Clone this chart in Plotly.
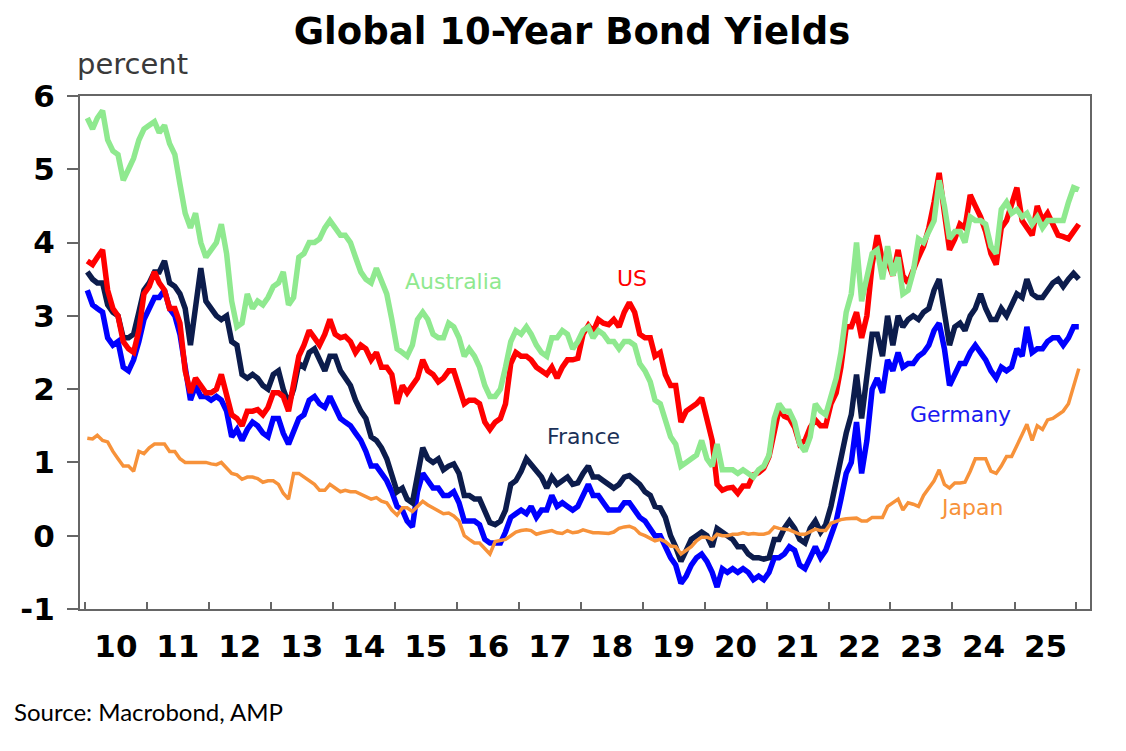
import pandas as pd
import plotly.graph_objects as go

# monthly readings, Jan 2010 .. Jan 2026 (percent)
australia = [
    5.7, 5.55, 5.7, 5.8, 5.4, 5.25, 5.2, 4.85, 5.0, 5.15, 5.4, 5.55,
    5.6, 5.65, 5.5, 5.6, 5.35, 5.2, 4.8, 4.4, 4.2, 4.4, 4.0, 3.8,
    3.9, 4.0, 4.25, 3.85, 3.2, 2.85, 2.9, 3.3, 3.1, 3.2, 3.15, 3.25,
    3.4, 3.45, 3.6, 3.15, 3.25, 3.8, 3.85, 4.0, 4.0, 4.05, 4.2, 4.3,
    4.2, 4.1, 4.1, 4.0, 3.8, 3.6, 3.5, 3.45, 3.65, 3.45, 3.3, 2.95,
    2.55, 2.5, 2.45, 2.6, 2.95, 3.05, 2.95, 2.75, 2.7, 2.7, 2.9, 2.85,
    2.7, 2.45, 2.55, 2.45, 2.3, 2.05, 1.9, 1.9, 2.0, 2.3, 2.65, 2.8,
    2.75, 2.85, 2.75, 2.6, 2.5, 2.45, 2.7, 2.7, 2.8, 2.75, 2.55, 2.65,
    2.8, 2.85, 2.7, 2.8, 2.75, 2.65, 2.65, 2.55, 2.65, 2.65, 2.6, 2.35,
    2.25, 2.1, 1.85, 1.8, 1.55, 1.35, 1.25, 0.95, 1.0, 1.05, 1.1, 1.3,
    1.05, 0.95, 1.25, 0.9, 0.9, 0.9, 0.85, 0.9, 0.85, 0.8, 0.9, 0.95,
    1.1, 1.6, 1.8, 1.7, 1.7, 1.55, 1.25, 1.15, 1.35, 1.8, 1.7, 1.65,
    1.9, 2.15, 2.5, 3.05, 3.3, 4.0, 3.2, 3.5, 3.85, 3.9, 3.5, 3.95,
    3.55, 3.8, 3.3, 3.35, 3.6, 4.05, 4.0, 4.15, 4.3, 4.85, 4.5, 4.05,
    4.15, 4.15, 4.0, 4.35, 4.3, 4.3, 4.25, 3.95, 3.85, 4.45, 4.55, 4.4,
    4.45, 4.35, 4.4, 4.25, 4.35, 4.2, 4.3, 4.3, 4.3, 4.3, 4.55, 4.75,
    4.72,
]
us = [
    3.75, 3.7, 3.8, 3.9, 3.35, 3.1, 3.0, 2.65, 2.55, 2.5, 2.8, 3.3,
    3.4, 3.6, 3.45, 3.35, 3.1, 3.1, 2.9, 2.25, 1.95, 2.15, 2.05, 1.95,
    1.95, 2.0, 2.2, 1.95, 1.65, 1.6, 1.5, 1.7, 1.7, 1.72, 1.65, 1.75,
    1.95, 1.95, 1.9, 1.7, 2.1, 2.45, 2.6, 2.8, 2.7, 2.6, 2.75, 2.95,
    2.75, 2.7, 2.72, 2.65, 2.5, 2.6, 2.55, 2.4, 2.5, 2.3, 2.3, 2.2,
    1.8, 2.05, 1.95, 2.05, 2.15, 2.4, 2.25, 2.2, 2.1, 2.15, 2.25, 2.25,
    2.0, 1.8, 1.85, 1.85, 1.8, 1.55, 1.45, 1.55, 1.6, 1.8, 2.35, 2.5,
    2.45, 2.45, 2.4, 2.3, 2.25, 2.2, 2.3, 2.15, 2.3, 2.4, 2.4, 2.42,
    2.75, 2.87, 2.78, 2.95, 2.9, 2.88, 2.95, 2.85, 3.05, 3.18, 3.05, 2.75,
    2.7, 2.7, 2.45, 2.5, 2.2, 2.05, 2.05, 1.55, 1.7, 1.75, 1.8, 1.88,
    1.6, 1.3, 0.7, 0.62, 0.65, 0.66, 0.58, 0.68, 0.68, 0.83, 0.86, 0.92,
    1.08, 1.38, 1.72, 1.63, 1.6, 1.48, 1.25, 1.3, 1.48, 1.58, 1.5, 1.5,
    1.8, 1.95, 2.3, 2.85, 2.85, 3.05, 2.7, 3.0, 3.7, 4.1, 3.75, 3.75,
    3.55, 3.9, 3.55, 3.45, 3.65, 3.8, 3.95, 4.2, 4.55, 4.95, 4.4, 3.9,
    4.05, 4.25, 4.2, 4.65, 4.5, 4.35, 4.15, 3.85, 3.7, 4.2, 4.3, 4.55,
    4.75, 4.3, 4.2, 4.1, 4.5, 4.3, 4.4, 4.25, 4.1, 4.08, 4.05, 4.15,
    4.25,
]
france = [
    3.6, 3.5, 3.45, 3.45, 3.15, 3.05, 3.0, 2.7, 2.7, 2.75, 3.05, 3.35,
    3.45, 3.6, 3.6, 3.75, 3.45, 3.4, 3.3, 3.1, 2.6, 3.15, 3.65, 3.2,
    3.1, 3.0, 2.95, 3.0, 2.65, 2.6, 2.2, 2.15, 2.2, 2.15, 2.05, 2.0,
    2.2, 2.25, 2.0, 1.8, 2.0, 2.35, 2.3, 2.5, 2.55, 2.4, 2.25, 2.45,
    2.45, 2.25, 2.15, 2.05, 1.85, 1.7, 1.6, 1.35, 1.3, 1.2, 1.05, 0.85,
    0.6, 0.65, 0.5, 0.45, 0.85, 1.2, 1.05, 1.0, 1.05, 0.9, 0.95, 0.98,
    0.85, 0.55, 0.55, 0.5, 0.5, 0.35, 0.18, 0.15, 0.2, 0.35, 0.7, 0.75,
    0.88, 1.05, 0.98, 0.88, 0.8, 0.65, 0.8, 0.7, 0.75, 0.8, 0.7, 0.72,
    0.85, 0.95, 0.8, 0.8, 0.75, 0.7, 0.65, 0.7, 0.8, 0.82, 0.75, 0.7,
    0.6, 0.55, 0.4, 0.38, 0.25, 0.0, -0.15, -0.35, -0.2, -0.05, 0.0, 0.05,
    0.0, -0.15, 0.1, 0.05, 0.0, -0.05, -0.15, -0.15, -0.25, -0.3, -0.3, -0.32,
    -0.3, -0.05, -0.05, 0.1, 0.2, 0.1, -0.05, -0.1, 0.1, 0.2, 0.05, 0.15,
    0.4, 0.75, 1.0, 1.4, 1.65, 2.2, 1.6, 2.2, 2.75, 2.75, 2.45, 3.0,
    2.6, 3.0, 2.85, 2.95, 3.0, 2.95, 3.05, 3.1, 3.35, 3.5, 3.05, 2.6,
    2.85, 2.9, 2.8, 3.0, 3.1, 3.3, 3.1, 2.95, 2.95, 3.1, 3.0, 3.15,
    3.3, 3.25, 3.5, 3.3, 3.25, 3.25, 3.35, 3.45, 3.5, 3.4, 3.5, 3.58,
    3.5,
]
germany = [
    3.35, 3.15, 3.1, 3.05, 2.7, 2.6, 2.65, 2.3, 2.25, 2.4, 2.65, 2.95,
    3.1, 3.25, 3.25, 3.35, 3.1, 3.0, 2.75, 2.3, 1.85, 2.05, 1.9, 1.9,
    1.85, 1.9, 1.85, 1.7, 1.35, 1.45, 1.3, 1.45, 1.55, 1.5, 1.4, 1.35,
    1.6, 1.6, 1.4, 1.25, 1.4, 1.6, 1.65, 1.85, 1.9, 1.8, 1.75, 1.9,
    1.75, 1.6, 1.55, 1.5, 1.4, 1.3, 1.15, 0.95, 0.95, 0.85, 0.75, 0.6,
    0.4, 0.35, 0.2, 0.12, 0.6, 0.85, 0.75, 0.65, 0.65, 0.55, 0.55, 0.6,
    0.45, 0.2, 0.2, 0.2, 0.15, -0.05, -0.1, -0.1, -0.1, 0.05, 0.25, 0.3,
    0.35, 0.3, 0.4, 0.25, 0.35, 0.35, 0.55, 0.4, 0.45, 0.4, 0.35, 0.4,
    0.55, 0.7, 0.55, 0.55, 0.45, 0.35, 0.35, 0.35, 0.45, 0.45, 0.35, 0.25,
    0.2, 0.1, 0.0, 0.0, -0.15, -0.3, -0.4, -0.65, -0.55, -0.4, -0.3, -0.25,
    -0.35, -0.5, -0.7, -0.45, -0.5, -0.45, -0.5, -0.45, -0.5, -0.6, -0.55, -0.6,
    -0.5, -0.3, -0.3, -0.25, -0.15, -0.2, -0.4, -0.45, -0.3, -0.15, -0.3, -0.2,
    0.0, 0.2, 0.5, 0.85, 1.0, 1.55, 0.85, 1.3, 2.0, 2.15, 1.95, 2.4,
    2.25, 2.5, 2.3, 2.35, 2.35, 2.45, 2.5, 2.6, 2.8, 2.9, 2.55, 2.05,
    2.2, 2.35, 2.35, 2.5, 2.6, 2.5, 2.4, 2.25, 2.15, 2.3, 2.25, 2.3,
    2.55, 2.45, 2.85, 2.5, 2.55, 2.55, 2.65, 2.7, 2.7, 2.6, 2.7, 2.85,
    2.85,
]
japan = [
    1.33, 1.32, 1.37, 1.3, 1.28, 1.15, 1.05, 0.95, 0.95, 0.88, 1.15, 1.12,
    1.2, 1.25, 1.25, 1.25, 1.15, 1.15, 1.05, 1.0, 1.0, 1.0, 1.0, 1.0,
    0.98, 0.97, 1.0, 0.93, 0.85, 0.83, 0.77, 0.8, 0.8, 0.78, 0.73, 0.75,
    0.75, 0.7, 0.58, 0.5, 0.85, 0.85, 0.8, 0.75, 0.7, 0.62, 0.62, 0.7,
    0.65, 0.6, 0.62, 0.6, 0.6, 0.57, 0.53, 0.5, 0.52, 0.47, 0.45, 0.35,
    0.28, 0.38, 0.38, 0.33, 0.4, 0.47, 0.42, 0.38, 0.35, 0.3, 0.31, 0.27,
    0.2, 0.0, -0.05, -0.1, -0.1, -0.18, -0.25, -0.08, -0.06, -0.05, 0.0, 0.05,
    0.07, 0.08, 0.07, 0.02, 0.04, 0.06, 0.07, 0.04, 0.03, 0.07, 0.04, 0.05,
    0.08, 0.06, 0.04, 0.04, 0.04, 0.03, 0.05, 0.1, 0.12, 0.13, 0.1, 0.03,
    0.0, -0.03, -0.07, -0.05, -0.08, -0.14, -0.15, -0.25, -0.2, -0.15, -0.07, -0.02,
    -0.02, -0.05, 0.02, 0.0, 0.0, 0.02, 0.02, 0.04, 0.02, 0.03, 0.02, 0.02,
    0.04, 0.12, 0.1, 0.09, 0.08, 0.05, 0.02, 0.02, 0.05, 0.09, 0.07, 0.07,
    0.17, 0.2, 0.22, 0.23, 0.24, 0.24, 0.2, 0.2, 0.25, 0.25, 0.25, 0.4,
    0.45, 0.5, 0.35, 0.45, 0.43, 0.4, 0.55, 0.65, 0.75, 0.9, 0.7, 0.65,
    0.72, 0.72, 0.73, 0.88, 1.05, 1.05, 1.05, 0.88, 0.85, 0.95, 1.08, 1.08,
    1.22, 1.38, 1.52, 1.3, 1.5, 1.45, 1.58, 1.6, 1.65, 1.7, 1.8, 2.05,
    2.28,
]

dates = pd.date_range("2010-01-01", periods=len(us), freq="MS") + pd.Timedelta(days=14)

y_ticks = [-1, 0, 1, 2, 3, 4, 5, 6]
y_labels = ["-1", "0", "1", "2", "3", "4", "5", "6"]

# name, values, colour, width  (drawing order: last on top)
series = [
    ("Germany", germany, "#0000FF", 5.5),
    ("France", france, "#0C1C4C", 5.5),
    ("Japan", japan, "#F7923A", 3.5),
    ("US", us, "#FF0000", 5.5),
    ("Australia", australia, "#8FE98F", 5.5),
]

fig = go.Figure()
for name, vals, col, w in series:
    fig.add_trace(go.Scatter(x=dates, y=vals, mode="lines", name=name,
                             line=dict(color=col, width=w)))

# series labels
labels = [
    ("Australia", "2015-12-15", 3.47, "#8FE98F"),
    ("US", "2018-10-30", 3.51, "#FF0000"),
    ("France", "2018-01-15", 1.36, "#1B3158"),
    ("Germany", "2024-02-15", 1.66, "#1A1AF0"),
    ("Japan", "2024-04-25", 0.38, "#F7923A"),
]
for txt, lx, ly, col in labels:
    fig.add_annotation(x=lx, y=ly, text=txt, showarrow=False,
                       font=dict(family="DejaVu Sans", size=22, color=col))

fig.add_annotation(x=-0.005, y=1.062, xref="paper", yref="paper", text="percent",
                   showarrow=False, xanchor="left", yanchor="middle",
                   font=dict(family="DejaVu Sans", size=29, color="#3a3a3a"))
fig.add_annotation(x=-0.067, y=-0.2, xref="paper", yref="paper",
                   text="Source: Macrobond, AMP", showarrow=False,
                   xanchor="left", yanchor="middle",
                   font=dict(family="Lato", size=24, color="black"))

axis_col = "#666666"
# page body has an 8px margin, so the figure is sized to sit inside the window
fig.update_layout(
    width=1118, height=743,
    margin=dict(l=70, r=36, t=88, b=142),
    paper_bgcolor="white", plot_bgcolor="white",
    showlegend=False,
    title=dict(text="<b>Global 10-Year Bond Yields</b>", x=0.5045, xanchor="center",
               y=0.969, yanchor="middle",
               font=dict(family="DejaVu Sans", size=37, color="black")),
    xaxis=dict(type="date", range=["2009-12-03", "2026-03-22"],
               dtick="M12", tick0="2010-01-01", tickformat="%y",
               ticklabelmode="period", ticks="inside", ticklen=7, tickwidth=2,
               tickcolor=axis_col, showline=True, linecolor=axis_col, linewidth=2,
               mirror=True, showgrid=False, zeroline=False, ticklabelstandoff=9,
               tickfont=dict(family="DejaVu Sans", size=31, color="black", weight="bold")),
    yaxis=dict(range=[-1, 6], tickvals=y_ticks, ticktext=y_labels,
               ticks="outside", ticklen=11, tickwidth=2, tickcolor=axis_col,
               showline=True, linecolor=axis_col, linewidth=2, mirror=True,
               showgrid=False, zeroline=False, ticklabelstandoff=6,
               tickfont=dict(family="DejaVu Sans", size=31, color="black", weight="bold")),
)

fig.write_html("out.html")
